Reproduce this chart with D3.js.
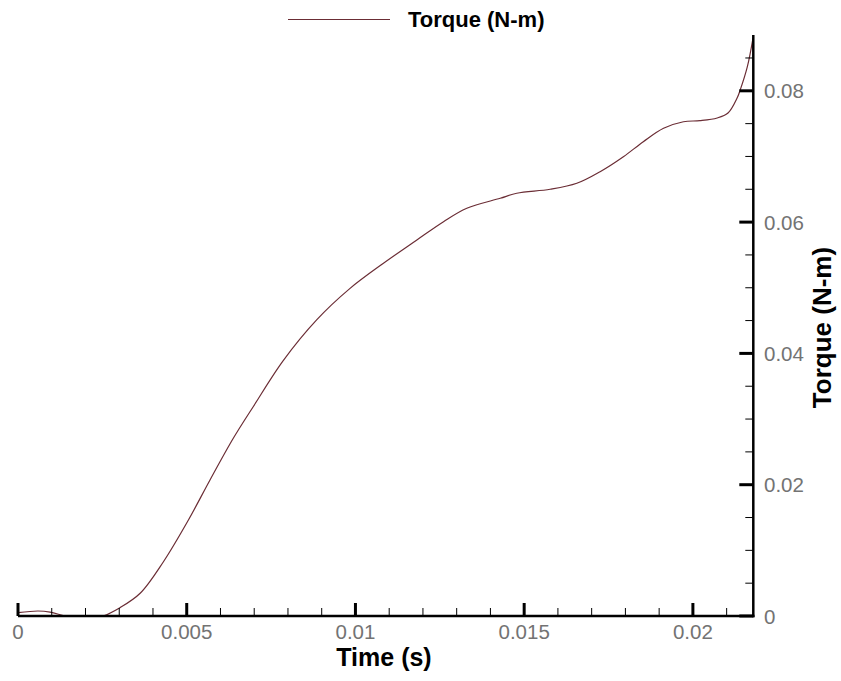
<!DOCTYPE html>
<html>
<head>
<meta charset="utf-8">
<script src="https://cdn.jsdelivr.net/npm/d3@7"></script>
<style>
html,body{margin:0;padding:0;background:#fff;}
svg{display:block;}
</style>
</head>
<body>
<svg id="chart" width="841" height="681"></svg>
<script>
// ---- data ----
const timeValues = [0, 0.00059, 0.00095, 0.00139, 0.0018, 0.0022, 0.00252, 0.00302, 0.00362, 0.00431, 0.00505, 0.00569, 0.00638, 0.00697, 0.00786, 0.00885, 0.00984, 0.01083, 0.01182, 0.01261, 0.0133, 0.01429, 0.01478, 0.01577, 0.01656, 0.01725, 0.01794, 0.01853, 0.01913, 0.01972, 0.02021, 0.02072, 0.02104, 0.02131, 0.0214, 0.02161, 0.02178];
const torqueValues = [0.0005, 0.00076, 0.0006, 0.0, -0.0004, -0.0003, 0.0, 0.00126, 0.00346, 0.00827, 0.01462, 0.02072, 0.02707, 0.03188, 0.0389, 0.0451, 0.0499, 0.05373, 0.05728, 0.06006, 0.0621, 0.06363, 0.06439, 0.065, 0.06591, 0.06768, 0.06996, 0.07225, 0.07429, 0.07529, 0.07545, 0.07586, 0.07662, 0.0789, 0.0801, 0.0836, 0.088];
const xMajorTicks = [0, 0.005, 0.01, 0.015, 0.02];
const xTickLabels = ["0", "0.005", "0.01", "0.015", "0.02"];
const yMajorTicks = [0, 0.02, 0.04, 0.06, 0.08];
const yTickLabels = ["0", "0.02", "0.04", "0.06", "0.08"];
const xTitle = "Time (s)";
const yTitle = "Torque (N-m)";
const seriesName = "Torque (N-m)";
const xDomain = [0, 0.02179];
const yDomain = [0, 0.0885];

// ---- layout ----
const svg = d3.select("#chart");
const pLeft = 18, pRight = 753.3, pBottom = 616, pTop = 35;
const x = d3.scaleLinear().domain(xDomain).range([pLeft, pRight]);
const y = d3.scaleLinear().domain(yDomain).range([pBottom, pTop]);
const lineColor = "#6b2d35";
const labelFont = "'Liberation Sans', Arial, sans-serif";

// clip
svg.append("defs").append("clipPath").attr("id", "clip")
  .append("rect").attr("x", pLeft).attr("y", pTop - 5).attr("width", pRight - pLeft).attr("height", pBottom - pTop + 5);

// curve
const pts = timeValues.map((t, i) => [t, torqueValues[i]]);
const line = d3.line().x(d => x(d[0])).y(d => y(d[1])).curve(d3.curveCatmullRom.alpha(0.5));
svg.append("path").datum(pts)
  .attr("clip-path", "url(#clip)")
  .attr("d", line)
  .attr("fill", "none")
  .attr("stroke", lineColor)
  .attr("stroke-width", 1.2);

// x minor ticks
const xMinor = d3.range(0, 0.0218, 0.001).filter(v => Math.abs(v / 0.005 - Math.round(v / 0.005)) > 1e-6);
const xAxisG = svg.append("g");
xAxisG.selectAll(".xminor").data(xMinor).enter().append("line")
  .attr("x1", d => x(d)).attr("x2", d => x(d))
  .attr("y1", pBottom).attr("y2", pBottom - 8)
  .attr("stroke", "#000").attr("stroke-width", 1);
xAxisG.selectAll(".xmajor").data(xMajorTicks).enter().append("line")
  .attr("x1", d => x(d)).attr("x2", d => x(d))
  .attr("y1", pBottom).attr("y2", pBottom - 13)
  .attr("stroke", "#000").attr("stroke-width", 3);
xAxisG.selectAll(".xlab").data(xMajorTicks).enter().append("text")
  .attr("x", d => x(d)).attr("y", 639)
  .attr("text-anchor", "middle")
  .attr("font-family", labelFont).attr("font-size", 20.5)
  .attr("fill", "#737373")
  .text((d, i) => xTickLabels[i]);

// y minor ticks
const yMinor = d3.range(0, 0.0886, 0.005).filter(v => Math.abs(v / 0.02 - Math.round(v / 0.02)) > 1e-6);
const yAxisG = svg.append("g");
yAxisG.selectAll(".yminor").data(yMinor).enter().append("line")
  .attr("x1", pRight).attr("x2", pRight - 8)
  .attr("y1", d => y(d)).attr("y2", d => y(d))
  .attr("stroke", "#000").attr("stroke-width", 1);
yAxisG.selectAll(".ymajor").data(yMajorTicks).enter().append("line")
  .attr("x1", pRight).attr("x2", pRight - 14)
  .attr("y1", d => y(d)).attr("y2", d => y(d))
  .attr("stroke", "#000").attr("stroke-width", 3);
yAxisG.selectAll(".ylab").data(yMajorTicks).enter().append("text")
  .attr("x", 764).attr("y", d => y(d) + 7.5)
  .attr("text-anchor", "start")
  .attr("font-family", labelFont).attr("font-size", 20.5)
  .attr("fill", "#737373")
  .text((d, i) => yTickLabels[i]);

// axis lines
svg.append("line").attr("x1", pLeft).attr("x2", pRight + 1.2).attr("y1", pBottom).attr("y2", pBottom)
  .attr("stroke", "#000").attr("stroke-width", 2.5);
svg.append("line").attr("x1", pRight).attr("x2", pRight).attr("y1", pTop).attr("y2", pBottom + 1.2)
  .attr("stroke", "#000").attr("stroke-width", 2.5);

// titles
svg.append("text").attr("x", 384).attr("y", 666)
  .attr("text-anchor", "middle")
  .attr("font-family", labelFont).attr("font-size", 25).attr("font-weight", "bold")
  .attr("fill", "#000").text(xTitle);
svg.append("text")
  .attr("transform", "translate(831,327.5) rotate(-90)")
  .attr("text-anchor", "middle")
  .attr("font-family", labelFont).attr("font-size", 26).attr("font-weight", "bold")
  .attr("fill", "#000").text(yTitle);

// legend
svg.append("line").attr("x1", 288).attr("x2", 390).attr("y1", 19.5).attr("y2", 19.5)
  .attr("stroke", lineColor).attr("stroke-width", 1.2);
svg.append("text").attr("x", 408).attr("y", 27)
  .attr("font-family", labelFont).attr("font-size", 22).attr("font-weight", "bold")
  .attr("fill", "#000").text(seriesName);
</script>
</body>
</html>
